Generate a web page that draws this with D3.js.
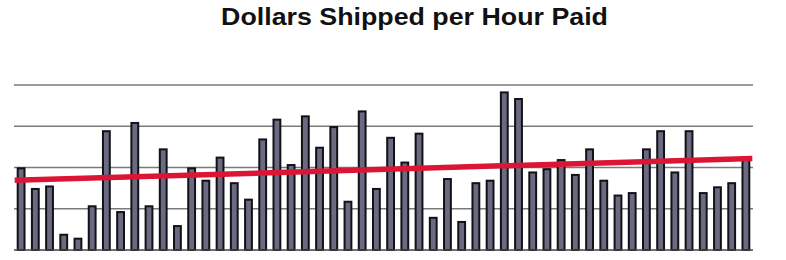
<!DOCTYPE html>
<html>
<head>
<meta charset="utf-8">
<script src="https://cdn.jsdelivr.net/npm/d3@7"></script>
<style>
  body { margin: 0; background: #fff; }
  svg { display: block; }
</style>
</head>
<body>
<svg id="chart" width="786" height="260"></svg>
<script>
// values (no axis labels shown, units per gridline = 50)
const periods = d3.range(1, 53).map(i => 'P' + i)
const dollarsPerHour = [
  99, 74, 77, 18.5, 13.7, 53, 144, 46, 154, 53,
  122, 29, 99, 84, 112, 81, 61, 134, 158, 103,
  162, 124, 149, 58.5, 168, 74, 136, 106, 141, 39,
  86, 34, 81, 84, 191, 183, 94, 98, 109, 91,
  122, 84, 66, 69, 122, 144, 94, 144, 69, 76,
  81, 110
]
const gridValues = [50, 100, 150, 200]
const trendEnds = [84.5, 111] // trend value at first and last period
const title = 'Dollars Shipped per Hour Paid'

const margin = {top: 85, right: 33, bottom: 10, left: 14}
const svg = d3.select('#chart')
const width = +svg.attr('width') - margin.left - margin.right
const height = +svg.attr('height') - margin.top - margin.bottom

// заголовок
svg.append('text')
  .attr('transform', 'translate(414.5,25) scale(1.14,1)')
  .attr('text-anchor', 'middle')
  .style('font-family', '"Liberation Sans", Arial, sans-serif')
  .style('font-weight', 'bold')
  .style('font-size', '23.5px')
  .attr('fill', '#111')
  .text(title)

const g = svg.append('g')
  .attr('transform', 'translate(' + margin.left + ',' + margin.top + ')')

const x = d3.scaleBand()
  .domain(periods)
  .range([0, width])
  .paddingInner(0.52)
  .paddingOuter(0.26)

const y = d3.scaleLinear()
  .domain([0, 200])
  .range([height, 0])

// сетка
g.selectAll('.grid')
  .data(gridValues)
  .enter()
  .append('line')
  .attr('class', 'grid')
  .attr('x1', 0)
  .attr('x2', width)
  .attr('y1', d => y(d))
  .attr('y2', d => y(d))
  .attr('stroke', '#7a7a7a')
  .attr('stroke-width', 1.5)

// столбцы
g.selectAll('.bar')
  .data(dollarsPerHour)
  .enter()
  .append('rect')
  .attr('class', 'bar')
  .attr('x', (d, i) => x(periods[i]))
  .attr('y', d => y(d))
  .attr('width', x.bandwidth())
  .attr('height', d => y(0) - y(d))
  .attr('fill', '#6a6a80')
  .attr('stroke', '#111118')
  .attr('stroke-width', 2)

// базовая линия
g.append('line')
  .attr('x1', 0)
  .attr('x2', width)
  .attr('y1', y(0))
  .attr('y2', y(0))
  .attr('stroke', '#444')
  .attr('stroke-width', 1.5)

// линия тренда
const first = periods[0]
const last = periods[periods.length - 1]
g.append('line')
  .attr('x1', x(first) - 3)
  .attr('x2', x(last) + x.bandwidth() + 3)
  .attr('y1', y(trendEnds[0]))
  .attr('y2', y(trendEnds[1]))
  .attr('stroke', '#dc1535')
  .attr('stroke-width', 5.5)
</script>
</body>
</html>
